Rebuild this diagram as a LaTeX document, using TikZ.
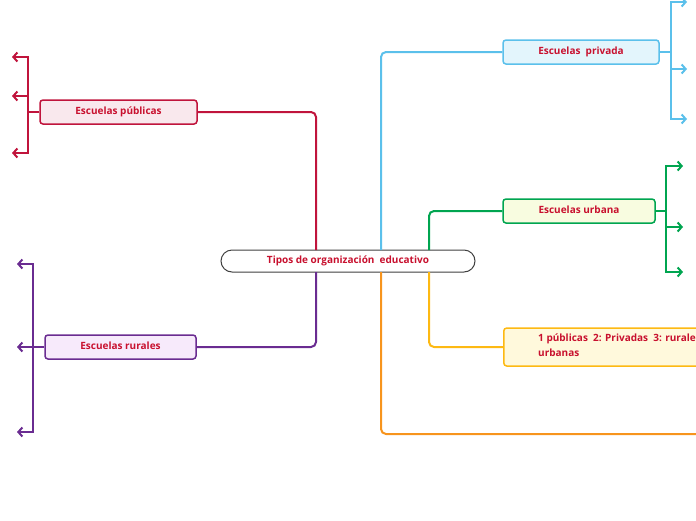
\documentclass[tikz,border=0pt]{standalone}
\usepackage{fontspec}
\setmainfont{Open Sans}
\usetikzlibrary{arrows.meta}
\definecolor{txtred}{HTML}{C8102E}
\definecolor{cred}{HTML}{C0143C}
\definecolor{fred}{HTML}{F9E8ED}
\definecolor{cpur}{HTML}{6A2C91}
\definecolor{fpur}{HTML}{F7EAFB}
\definecolor{cblu}{HTML}{5BC0EB}
\definecolor{fblu}{HTML}{E3F5FC}
\definecolor{cgrn}{HTML}{00A550}
\definecolor{fgrn}{HTML}{F8FCE0}
\definecolor{cgld}{HTML}{FDB913}
\definecolor{fgld}{HTML}{FFF9DC}
\definecolor{corg}{HTML}{F7941D}
\tikzset{
  lbl/.style={font=\fontsize{10}{12}\selectfont\bfseries, text=txtred, text height=6.5pt, text depth=1.5pt},
  topic/.style={draw, line width=1.5pt, rounded corners=3pt, inner sep=0pt, lbl},
  conn/.style={line width=2pt, rounded corners=5pt},
  arr/.style={line width=2pt, -{Straight Barb[length=4pt,width=9pt,line width=2pt]}},
}
\begin{document}
\begin{tikzpicture}[x=1pt,y=-1pt]
\useasboundingbox (0,0) rectangle (696,520);
% central
\node[draw=black!75, line width=1pt, fill=white, rounded corners=11pt, minimum width=254pt, minimum height=22pt, inner sep=0pt, lbl] (c) at (348,261) {Tipos de organización\ \ educativo};
% coordinates for connectors
\coordinate (ct1) at (316,250);
\coordinate (cb1) at (316,272);
\coordinate (ct2) at (381,250);
\coordinate (cb2) at (381,272);
\coordinate (ct3) at (429,250);
\coordinate (cb3) at (429,272);
% topics
\node[topic, draw=cred, fill=fred, minimum width=157pt, minimum height=24pt] (pub) at (118.5,112) {Escuelas públicas};
\node[topic, draw=cpur, fill=fpur, minimum width=151pt, minimum height=24pt] (rur) at (120.5,347) {Escuelas rurales};
\node[topic, draw=cblu, fill=fblu, minimum width=156pt, minimum height=24pt] (pri) at (581,52) {Escuelas\ \ privada};
\node[topic, draw=cgrn, fill=fgrn, minimum width=152pt, minimum height=24pt] (urb) at (579,211) {Escuelas urbana};
\node[topic, draw=cgld, fill=fgld, minimum width=220pt, minimum height=38pt, anchor=west] (num) at (503,347) {};
\node[font=\fontsize{10}{15}\selectfont\bfseries, text=txtred, anchor=north west, align=left, inner sep=0pt] (numt) at (538,334) {1 públicas\ \ 2: Privadas\ \ 3: rurales\ \ 4:\\urbanas};
% main connectors
\draw[conn, cred] (pub.east) -| (ct1);
\draw[conn, cpur] (rur.east) -| (cb1);
\draw[conn, cblu] (ct2) |- (pri.west);
\draw[conn, cgrn] (ct3) |- (urb.west);
\draw[conn, cgld] (cb3) |- (num.west);
\coordinate (oe) at (720,434);
\draw[conn, corg] (cb2) |- (oe);
% left brackets: publicas
\coordinate (p1) at (12,57);
\coordinate (p2) at (12,96);
\coordinate (p3) at (12,153);
\draw[line width=2pt, cred] (pub.west) -- (28,112);
\draw[line width=2pt, cred] (28,56) -- (28,154);
\draw[arr, cred] (28,57) -- (p1);
\draw[arr, cred] (28,96) -- (p2);
\draw[arr, cred] (28,153) -- (p3);
% rurales
\coordinate (r1) at (17,264);
\coordinate (r2) at (17,347);
\coordinate (r3) at (17,432);
\draw[line width=2pt, cpur] (rur.west) -- (33,347);
\draw[line width=2pt, cpur] (33,263) -- (33,433);
\draw[arr, cpur] (33,264) -- (r1);
\draw[arr, cpur] (33,347) -- (r2);
\draw[arr, cpur] (33,432) -- (r3);
% privada
\coordinate (b1) at (687,2);
\coordinate (b2) at (687,69);
\coordinate (b3) at (687,119);
\draw[line width=2pt, cblu] (pri.east) -- (671,52);
\draw[line width=2pt, cblu] (671,1) -- (671,120);
\draw[arr, cblu] (671,2) -- (b1);
\draw[arr, cblu] (671,69) -- (b2);
\draw[arr, cblu] (671,119) -- (b3);
% urbana
\coordinate (g1) at (683,166);
\coordinate (g2) at (683,227);
\coordinate (g3) at (683,272);
\draw[line width=2pt, cgrn] (urb.east) -- (666,211);
\draw[line width=2pt, cgrn] (666,165) -- (666,273);
\draw[arr, cgrn] (666,166) -- (g1);
\draw[arr, cgrn] (666,227) -- (g2);
\draw[arr, cgrn] (666,272) -- (g3);
\end{tikzpicture}
\end{document}
